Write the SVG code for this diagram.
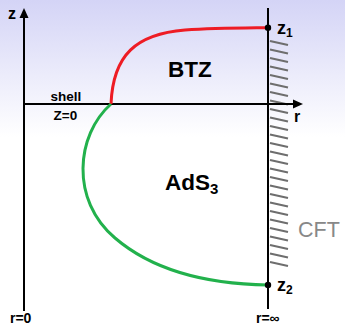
<svg xmlns="http://www.w3.org/2000/svg" width="345" height="326" viewBox="0 0 345 326">
<defs>
<linearGradient id="bg" x1="0" y1="0" x2="0" y2="1">
<stop offset="0" stop-color="#d4d4f6"/>
<stop offset="0.42" stop-color="#ffffff"/>
<stop offset="1" stop-color="#ffffff"/>
</linearGradient>
<style>
.ax{stroke:#000;stroke-width:2;fill:none}
.h{stroke:#6e6e6e;stroke-width:2.2}
.t{font-family:"Liberation Sans",Arial,sans-serif;font-weight:bold;fill:#000}
</style>
</defs>
<rect width="345" height="326" fill="url(#bg)"/>
<g id="hatch">
<path class="h" d="M270,41l18,4M270,49.5l18,4M270,58l18,4M270,66.5l18,4M270,75l18,4M270,83.5l18,4M270,92l18,4M270,100.5l18,4M270,109l18,4M270,117.5l18,4M270,126l18,4M270,134.5l18,4M270,143l18,4M270,151.5l18,4M270,160l18,4M270,168.5l18,4M270,177l18,4M270,185.5l18,4M270,194l18,4M270,202.5l18,4M270,211l18,4M270,219.5l18,4M270,228l18,4M270,236.5l18,4M270,245l18,4M270,253.5l18,4M270,262l18,4"/>
</g>
<g id="axes">
<line class="ax" x1="24" y1="16" x2="24" y2="311"/>
<polygon points="24,8 19.5,18 28.5,18" fill="#000"/>
<line class="ax" x1="24" y1="104" x2="295" y2="104"/>
<polygon points="303,104 293,99.5 293,108.5" fill="#000"/>
<line class="ax" x1="268" y1="8" x2="268" y2="309"/>
</g>
<g id="curves">
<path d="M111,104 C113,55 136,34 185,30 C215,28 245,28 268,27.7" stroke="#ee1c24" stroke-width="3" fill="none"/>
<path d="M111,104 C76,135 70,200 115,238 C150,268 200,284 268,285" stroke="#22b14c" stroke-width="3" fill="none"/>
</g>
<g id="points">
<circle cx="268" cy="27.7" r="3.2" fill="#000"/>
<circle cx="268" cy="285" r="3.2" fill="#000"/>
</g>
<g id="labels">
<text class="t" x="8" y="18.5" font-size="16">z</text>
<text class="t" x="294" y="122" font-size="16">r</text>
<text class="t" x="277" y="33.5" font-size="18">z<tspan font-size="12" dy="3">1</tspan></text>
<text class="t" x="277" y="291" font-size="18">z<tspan font-size="12" dy="3">2</tspan></text>
<text class="t" x="50.5" y="100.5" font-size="13.5">shell</text>
<text class="t" x="53.5" y="119.5" font-size="13.5">Z=0</text>
<text class="t" x="168" y="77" font-size="22.5">BTZ</text>
<text class="t" x="165" y="190" font-size="22.5">AdS<tspan font-size="15" dy="4">3</tspan></text>
<text x="298" y="237" font-size="21.5" font-family="Liberation Sans,Arial,sans-serif" fill="#888888">CFT</text>
<text class="t" x="10" y="323" font-size="14">r=0</text>
<text class="t" x="256" y="323" font-size="14">r=∞</text>
</g>
</svg>
